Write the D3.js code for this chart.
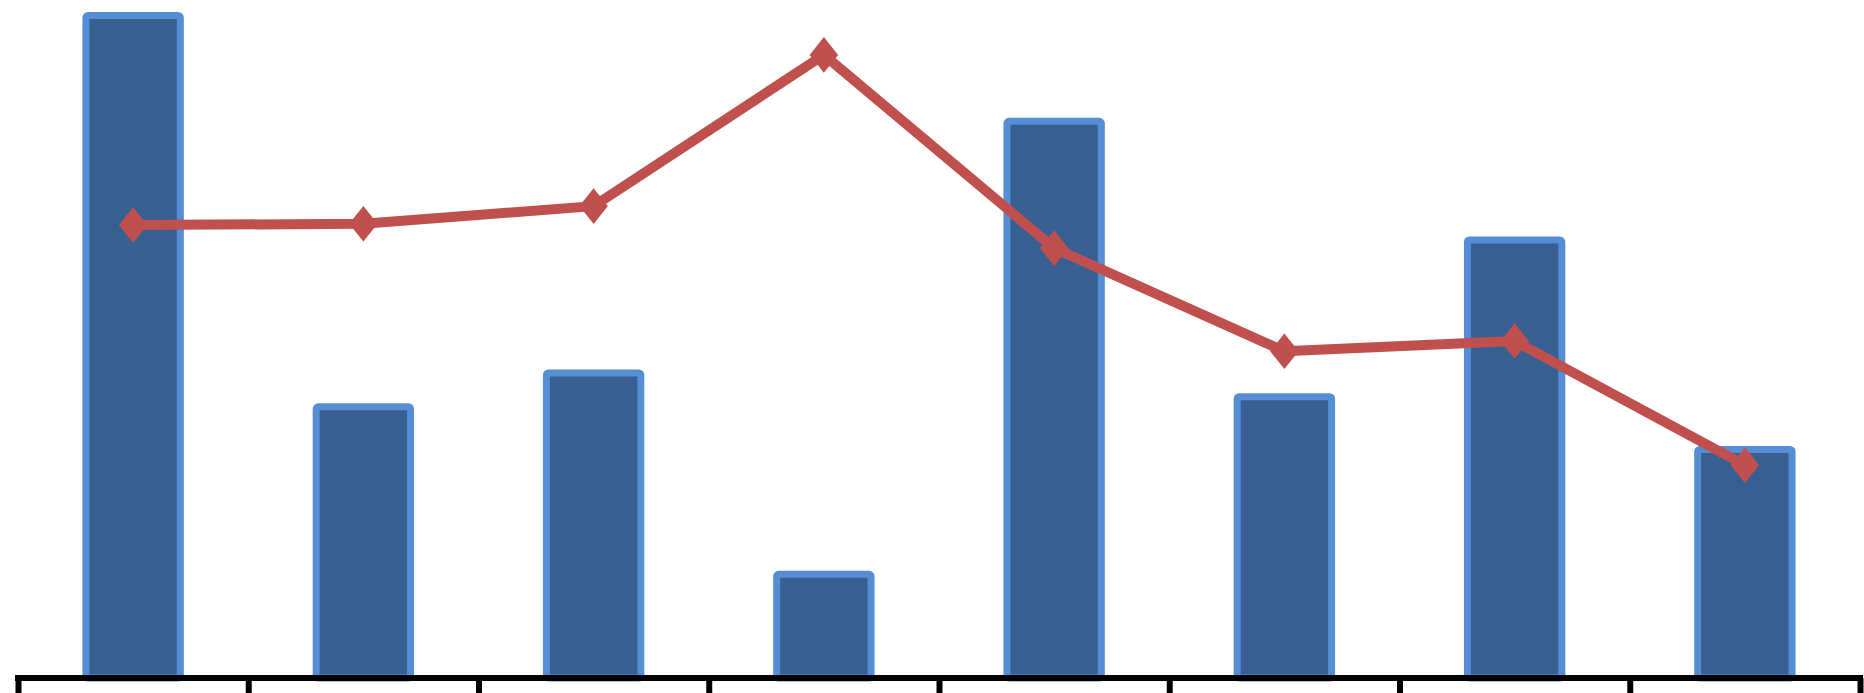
<!DOCTYPE html>
<html>
<head>
<meta charset="utf-8">
<script src="https://cdn.jsdelivr.net/npm/d3@7"></script>
<style>
  html, body { margin: 0; padding: 0; background: #fff; overflow: hidden; }
</style>
</head>
<body>
<div chart></div>
<script>
const categories = ["1", "2", "3", "4", "5", "6", "7", "8"];
const barValues = [97.7, 40.0, 45.0, 15.3, 82.1, 41.5, 64.6, 33.7];
const lineValues = [66.8, 67.0, 69.6, 91.9, 63.4, 48.2, 49.7, 31.4];

const size = { width: 1864, height: 693 };
const axisY = 678;

const svg = d3
  .select("[chart]")
  .append("svg")
  .attr("width", size.width)
  .attr("height", size.height);

const xScale = d3
  .scaleBand()
  .domain(categories)
  .range([18, 1860])
  .paddingInner(0.59)
  .paddingOuter(0.295);

const yScale = d3.scaleLinear().domain([0, 100]).range([axisY, 0]);

// bars
svg
  .append("g")
  .selectAll("rect")
  .data(barValues)
  .join("rect")
  .attr("x", (d, i) => xScale(categories[i]))
  .attr("y", (d) => yScale(d))
  .attr("width", xScale.bandwidth())
  .attr("height", (d) => axisY - yScale(d))
  .attr("rx", 2)
  .attr("fill", "#385f92")
  .attr("stroke", "#558ed5")
  .attr("stroke-width", 7);

// category axis with ticks between bars
const edgeScale = d3
  .scaleLinear()
  .domain([0, categories.length])
  .range(xScale.range());

svg
  .append("g")
  .attr("transform", `translate(0,${axisY})`)
  .call(
    d3
      .axisBottom(edgeScale)
      .tickValues(d3.range(categories.length + 1))
      .tickSize(20)
      .tickSizeOuter(0)
      .tickFormat("")
  )
  .call((g) => g.select(".domain").attr("stroke", "#000").attr("stroke-width", 6).attr("d", "M15,0H1863"))
  .call((g) => g.selectAll(".tick line").attr("stroke", "#000").attr("stroke-width", 6));

// line series
const cx = (i) => xScale(categories[i]) + xScale.bandwidth() / 2;

const lineGenerator = d3
  .line()
  .x((d, i) => cx(i))
  .y((d) => yScale(d));

svg
  .append("path")
  .datum(lineValues)
  .attr("d", lineGenerator)
  .attr("fill", "none")
  .attr("stroke", "#c0504d")
  .attr("stroke-width", 10)
  .attr("stroke-linejoin", "round");

// slightly tall diamond marker
const tallDiamond = {
  draw(context, area) {
    const h = Math.sqrt(area / 1.6);
    const w = h * 0.8;
    context.moveTo(0, -h);
    context.lineTo(w, 0);
    context.lineTo(0, h);
    context.lineTo(-w, 0);
    context.closePath();
  }
};

svg
  .append("g")
  .selectAll("path")
  .data(lineValues)
  .join("path")
  .attr("transform", (d, i) => `translate(${cx(i)},${yScale(d)})`)
  .attr("d", d3.symbol(tallDiamond, 420))
  .attr("fill", "#c0504d")
  .attr("stroke", "#c0504d")
  .attr("stroke-width", 2);
</script>
</body>
</html>
